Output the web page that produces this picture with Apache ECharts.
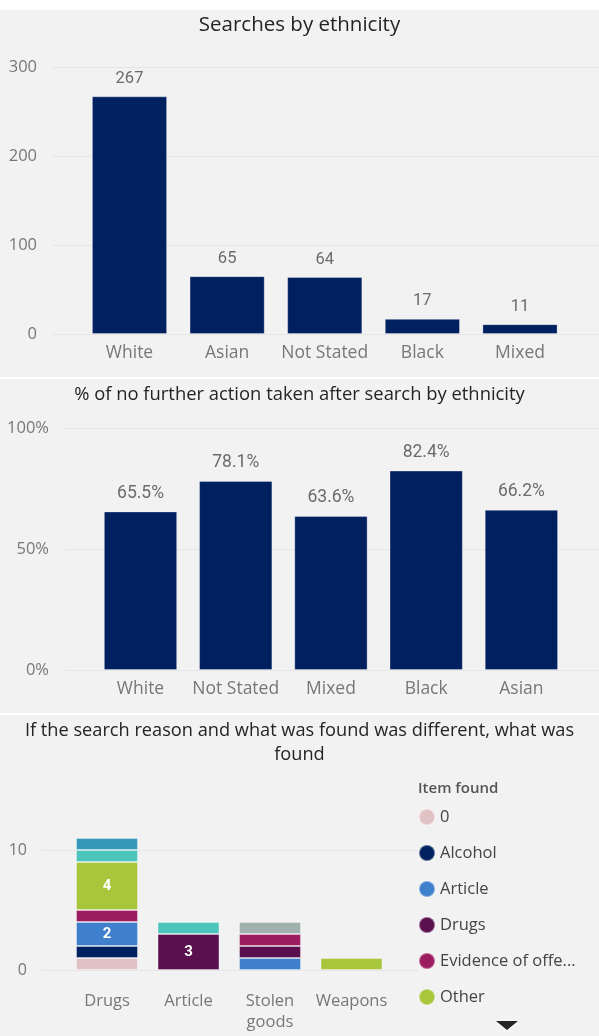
<!DOCTYPE html>
<html>
<head>
<meta charset="utf-8">
<script src="https://cdn.jsdelivr.net/npm/echarts@6/dist/echarts.min.js"></script>
<style>
  html, body { margin: 0; padding: 0; background: #ffffff; width: 599px; height: 1036px; overflow: hidden; }
  .panel { position: absolute; left: 0; width: 599px; background: #f2f2f2; }
</style>
</head>
<body>
<div id="c1" class="panel" style="top:10px;height:367px;"></div>
<div id="c2" class="panel" style="top:379px;height:334px;"></div>
<div id="c3" class="panel" style="top:715px;height:321px;"></div>
<script>
// ---------- Data ----------
const searchCategories = ['White', 'Asian', 'Not Stated', 'Black', 'Mixed'];
const searchCounts = [267, 65, 64, 17, 11];
const searchTicks = { min: 0, max: 300, interval: 100 };

const nfaCategories = ['White', 'Not Stated', 'Mixed', 'Black', 'Asian'];
const nfaPercent = [65.5, 78.1, 63.6, 82.4, 66.2];
const nfaTicks = { min: 0, max: 100, interval: 50 };

const reasonCategories = ['Drugs', 'Article', 'Stolen\ngoods', 'Weapons'];
const itemNames = ['0', 'Alcohol', 'Article', 'Drugs', 'Evidence of offence', 'Other',
                   'Psychoactive substances', 'Stolen goods', 'Weapons'];
const item0 = [1, null, null, null];
const itemAlcohol = [1, null, null, null];
const itemArticle = [2, null, 1, null];
const itemDrugs = [null, 3, 1, null];
const itemEvidence = [1, null, 1, null];
const itemOther = [4, null, null, 1];
const itemPsycho = [1, 1, null, null];
const itemStolen = [1, null, null, null];
const itemWeapons = [null, null, 1, null];
const itemValues = [item0, itemAlcohol, itemArticle, itemDrugs, itemEvidence, itemOther,
                    itemPsycho, itemStolen, itemWeapons];
const itemColors = ['#e0c1c4', '#002060', '#3f80cc', '#5a104e', '#9c1c60', '#a8c63c',
                    '#4cc5bc', '#3499bb', '#9fb0ad'];
const legendShown = itemNames.slice(0, 6);
const foundTicks = { min: 0, max: 10, interval: 10 };

// ---------- Styles ----------
const FONT = 'Open Sans';
const LABEL_FONT = 'Roboto';
const NAVY = '#002060';
const AXIS_COLOR = '#777777';
const GRID_COLOR = '#e6e6e6';
const TITLE_COLOR = '#252423';

function barPanel(el, cfg) {
  const chart = echarts.init(document.getElementById(el), null, { renderer: 'canvas' });
  chart.setOption({
    animation: false,
    backgroundColor: '#f2f2f2',
    title: {
      text: cfg.title, left: 'center', top: cfg.titleTop, padding: 0,
      textStyle: { fontFamily: FONT, fontSize: cfg.titleSize, fontWeight: 'normal', color: TITLE_COLOR }
    },
    grid: [
      { left: cfg.gridLeft, right: 0, top: cfg.top, bottom: cfg.bottom },
      { left: cfg.barLeft, right: cfg.barRight, top: cfg.top, bottom: cfg.bottom }
    ],
    xAxis: [
      { gridIndex: 0, type: 'value', show: false },
      {
        gridIndex: 1, type: 'category', data: cfg.categories,
        axisLine: { show: false }, axisTick: { show: false },
        axisLabel: { color: AXIS_COLOR, fontFamily: FONT, fontSize: 17.5, margin: 10, interval: 0 }
      }
    ],
    yAxis: [
      {
        gridIndex: 0, type: 'value', min: cfg.ticks.min, max: cfg.ticks.max, interval: cfg.ticks.interval,
        axisLine: { show: false }, axisTick: { show: false },
        axisLabel: { color: AXIS_COLOR, fontFamily: FONT, fontSize: 16.5, margin: cfg.labelMargin,
                     formatter: cfg.tickFmt },
        splitLine: { lineStyle: { color: GRID_COLOR, width: 1 } }
      },
      { gridIndex: 1, type: 'value', min: cfg.ticks.min, max: cfg.ticks.max, show: false }
    ],
    series: [{
      type: 'bar', xAxisIndex: 1, yAxisIndex: 1, data: cfg.values,
      barCategoryGap: '23%',
      itemStyle: { color: NAVY, borderColor: 'rgba(255,255,255,0.3)', borderWidth: 1 },
      label: {
        show: true, position: 'top', distance: 9,
        color: '#6b6b6b', fontFamily: LABEL_FONT, fontSize: cfg.valueSize,
        formatter: cfg.labelFmt
      }
    }]
  });
}

barPanel('c1', {
  title: 'Searches by ethnicity', titleTop: 5, titleSize: 20.5,
  categories: searchCategories, values: searchCounts, ticks: searchTicks,
  top: 57, bottom: 43, gridLeft: 52, barLeft: 80.7, barRight: 30.2, labelMargin: 15,
  tickFmt: '{value}', labelFmt: p => p.value, valueSize: 16.5
});

barPanel('c2', {
  title: '% of no further action taken after search by ethnicity', titleTop: 7, titleSize: 18.4,
  categories: nfaCategories, values: nfaPercent, ticks: nfaTicks,
  top: 49, bottom: 43, gridLeft: 65, barLeft: 92.9, barRight: 30, labelMargin: 16,
  tickFmt: '{value}%', labelFmt: p => p.value.toFixed(1) + '%', valueSize: 17.5
});

// ---------- Stacked chart ----------
(function () {
  const chart = echarts.init(document.getElementById('c3'), null, { renderer: 'canvas' });
  const series = itemNames.map((name, i) => ({
    name: name, type: 'bar', stack: 'found', xAxisIndex: 1, yAxisIndex: 1,
    data: itemValues[i], clip: false,
    barCategoryGap: '24%',
    itemStyle: { color: itemColors[i], borderColor: 'rgba(255,255,255,0.35)', borderWidth: 1 },
    label: {
      show: true, position: 'inside', color: '#ffffff', fontFamily: LABEL_FONT,
      fontWeight: 'bold', fontSize: 15,
      formatter: p => (p.value >= 2 ? String(p.value) : '')
    }
  }));
  const titleStyle = { fontFamily: FONT, fontSize: 18.2, fontWeight: 'normal', color: TITLE_COLOR };
  chart.setOption({
    animation: false,
    backgroundColor: '#f2f2f2',
    title: [
      {
        text: 'If the search reason and what was found was different, what was',
        left: 'center', top: 7, padding: 0, textStyle: titleStyle
      },
      {
        text: 'found', left: 'center', top: 31, padding: 0, textStyle: titleStyle
      },
      {
        text: 'Item found', left: 418, top: 66, padding: 0,
        textStyle: { fontFamily: FONT, fontSize: 15, fontWeight: 600, color: '#555555' }
      }
    ],
    legend: {
      data: legendShown, orient: 'vertical', left: 418, top: 93, padding: 0,
      icon: 'circle', itemWidth: 16, itemHeight: 16, itemGap: 18,
      textStyle: { fontFamily: FONT, fontSize: 16.5, color: '#444444', lineHeight: 17 },
      formatter: name => (name.length > 16 ? name.slice(0, 16) + '...' : name),
      selectedMode: false
    },
    grid: [
      { left: 42, right: 181, top: 135, bottom: 66 },
      { left: 66.25, right: 206.75, top: 135, bottom: 66 }
    ],
    xAxis: [
      { gridIndex: 0, type: 'value', show: false },
      {
        gridIndex: 1, type: 'category', data: reasonCategories,
        axisLine: { show: false }, axisTick: { show: false },
        axisLabel: { color: AXIS_COLOR, fontFamily: FONT, fontSize: 16.5, margin: 21, lineHeight: 21, interval: 0 }
      }
    ],
    yAxis: [
      {
        gridIndex: 0, type: 'value', min: foundTicks.min, max: foundTicks.max, interval: foundTicks.interval,
        axisLine: { show: false }, axisTick: { show: false },
        axisLabel: { color: AXIS_COLOR, fontFamily: FONT, fontSize: 16, margin: 15 },
        splitLine: { lineStyle: { color: GRID_COLOR, width: 1 } }
      },
      { gridIndex: 1, type: 'value', min: foundTicks.min, max: foundTicks.max, show: false }
    ],
    graphic: [{
      type: 'polygon',
      shape: { points: [[496, 306], [518, 306], [507, 315]] },
      style: { fill: '#252525', shadowColor: '#ffffff', shadowBlur: 4 }
    }],
    series: series
  });
})();
</script>
</body>
</html>
